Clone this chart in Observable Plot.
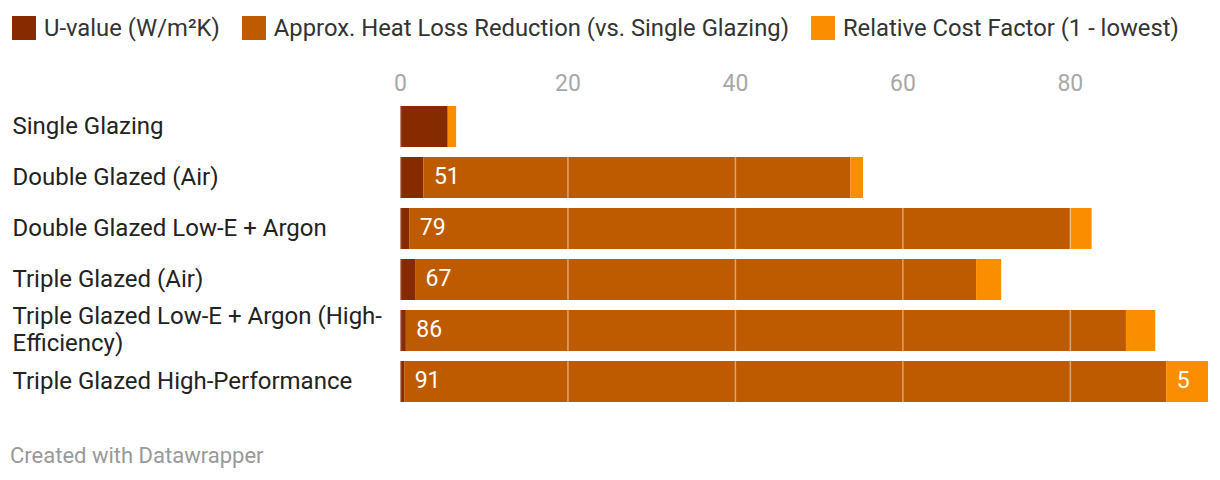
<!DOCTYPE html>
<html><head><meta charset="utf-8">
<script src="https://cdn.jsdelivr.net/npm/d3@7"></script>
<script src="https://cdn.jsdelivr.net/npm/@observablehq/plot@0.6"></script>
<style>
body{margin:0;background:#fff;font-family:Roboto,sans-serif;width:1220px;height:480px;position:relative;overflow:hidden;}
#legend{position:absolute;left:12px;top:13px;display:flex;align-items:center;font-size:23.8px;color:#333;line-height:30px;}
#legend .item{display:flex;align-items:center;margin-right:22px;}
#legend .sw{width:24px;height:24px;margin-right:8px;}
#chart{position:absolute;left:0;top:60px;}
#footer{position:absolute;left:10px;top:443px;font-size:22px;color:#999;}
</style></head><body>
<div id="legend"></div>
<div id="chart"></div>
<div id="footer">Created with Datawrapper</div>
<script>
const categories = ["Single Glazing","Double Glazed (Air)","Double Glazed Low-E + Argon","Triple Glazed (Air)","Triple Glazed Low-E + Argon (High-Efficiency)","Triple Glazed High-Performance"];
const seriesNames = ["U-value (W/m²K)","Approx. Heat Loss Reduction (vs. Single Glazing)","Relative Cost Factor (1 - lowest)"];
const uValue = [5.7, 2.8, 1.1, 1.8, 0.7, 0.5];
const heatLoss = [0, 51, 79, 67, 86, 91];
const costFactor = [1, 1.5, 2.5, 3, 3.5, 5];
const colors = ["#862a00","#be5a00","#fb8d00"];
const xTicks = [0, 20, 40, 60, 80];

const seriesValues = [uValue, heatLoss, costFactor];
const long = [];
categories.forEach((c, i) => {
  seriesNames.forEach((s, j) => long.push({cat: c, series: s, value: seriesValues[j][i], j}));
});

const leg = document.getElementById("legend");
seriesNames.forEach((s, j) => {
  const it = document.createElement("div"); it.className = "item";
  const sw = document.createElement("div"); sw.className = "sw"; sw.style.background = colors[j];
  const t = document.createElement("span"); t.textContent = s;
  it.appendChild(sw); it.appendChild(t); leg.appendChild(it);
});

const showLabel = d => (d.j === 1 && d.value > 0) || (d.j === 2 && d.value >= 5);

const chart = Plot.plot({
  width: 1220,
  height: 348,
  marginLeft: 400,
  marginRight: 12,
  marginTop: 45,
  marginBottom: 5,
  style: {fontFamily: "Roboto, sans-serif", fontSize: "24px", color: "#222", background: "transparent"},
  x: {domain: [0, 96.5], axis: null},
  y: {domain: categories, axis: null, paddingInner: 0.2, paddingOuter: 0},
  color: {domain: seriesNames, range: colors},
  marks: [
    Plot.barX(long, Plot.stackX({x: "value", y: "cat", z: "series", fill: "series", order: null})),
    Plot.ruleX(xTicks, {x: d => d, stroke: "white", strokeOpacity: 0.45, strokeWidth: 1.5}),
    Plot.axisX({anchor: "top", ticks: xTicks, tickSize: 0, tickPadding: 15, fill: "#a8a8a8", fontSize: 23, label: null}),
    Plot.axisY({anchor: "left", tickSize: 0, tickPadding: 0, textAnchor: "start", dx: -388, dy: -2, lineWidth: 19, lineHeight: 1.12, fill: "#222", fontSize: 24, label: null}),
    Plot.text(long, Plot.stackX1({x: "value", y: "cat", z: "series", order: null,
      text: d => showLabel(d) ? String(d.value) : null,
      textAnchor: "start", dx: 10, dy: -1, fill: "white", fontSize: 23}))
  ]
});
document.getElementById("chart").appendChild(chart);
</script>
</body></html>
